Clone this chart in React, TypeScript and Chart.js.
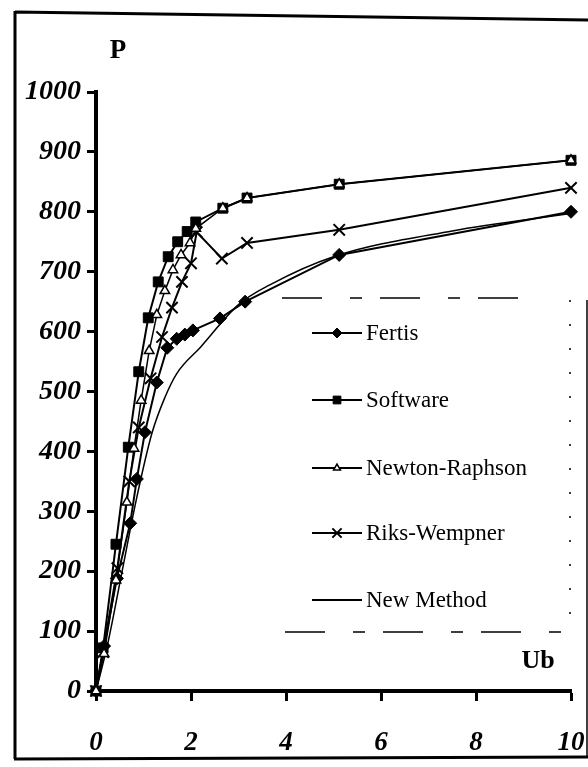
import React, { useEffect, useRef } from 'react';
import { Chart, registerables } from 'chart.js';

Chart.register(...registerables);

// ---- Data ----
const fertisU = [0, 0.17, 0.44, 0.72, 0.86, 1.03, 1.28, 1.5, 1.7, 1.87, 2.04, 2.61, 3.14, 5.12, 10];
const fertisP = [0, 75, 188, 280, 354, 432, 515, 573, 588, 595, 602, 622, 650, 728, 800];

const softwareU = [0, 0.15, 0.42, 0.68, 0.9, 1.1, 1.31, 1.52, 1.72, 1.92, 2.1, 2.67, 3.18, 5.12, 10];
const softwareP = [0, 72, 245, 407, 533, 623, 683, 725, 750, 767, 783, 806, 823, 846, 886];

const newtonU = [0, 0.17, 0.42, 0.65, 0.8, 0.95, 1.12, 1.28, 1.45, 1.62, 1.79, 1.98, 2.1, 2.67, 3.18, 5.12, 10];
const newtonP = [0, 62, 185, 315, 405, 485, 568, 628, 668, 703, 728, 748, 772, 806, 823, 846, 886];

const riksU = [0, 0.15, 0.45, 0.7, 0.9, 1.15, 1.39, 1.6, 1.81, 2.0, 2.12, 2.65, 3.18, 5.12, 10];
const riksP = [0, 65, 205, 350, 440, 522, 591, 640, 683, 714, 766, 722, 748, 770, 840];

const newMethodU = [0, 0.25, 0.55, 0.85, 1.18, 1.45, 1.7, 2.2, 3.0, 3.66, 5.0, 7.5, 10];
const newMethodP = [0, 80, 200, 320, 431, 490, 530, 574, 645, 678, 725, 768, 797];

const xTickValues = [0, 2, 4, 6, 8, 10];
const yTickValues = [0, 100, 200, 300, 400, 500, 600, 700, 800, 900, 1000];

const seriesNames = ['Fertis', 'Software', 'Newton-Raphson', 'Riks-Wempner', 'New Method'];
const yAxisTitle = 'P';
const xAxisTitle = 'Ub';

const SERIF = "'Liberation Serif', 'Times New Roman', serif";

function pts(us: number[], ps: number[]) {
  return us.map((u, i) => ({ x: u, y: ps[i] }));
}

function drawPoint(ctx: CanvasRenderingContext2D, style: string, r: number, x: number, y: number) {
  ctx.beginPath();
  if (style === 'rectRot') {
    ctx.moveTo(x, y - r);
    ctx.lineTo(x + r, y);
    ctx.lineTo(x, y + r);
    ctx.lineTo(x - r, y);
    ctx.closePath();
    ctx.fill();
    ctx.stroke();
  } else if (style === 'rect') {
    const s = r * Math.SQRT1_2;
    ctx.rect(x - s, y - s, 2 * s, 2 * s);
    ctx.fill();
    ctx.stroke();
  } else if (style === 'triangle') {
    ctx.moveTo(x, y - r);
    ctx.lineTo(x + r * 0.866, y + r * 0.5);
    ctx.lineTo(x - r * 0.866, y + r * 0.5);
    ctx.closePath();
    ctx.fill();
    ctx.stroke();
  } else if (style === 'crossRot') {
    const s = r * Math.SQRT1_2;
    ctx.moveTo(x - s, y - s);
    ctx.lineTo(x + s, y + s);
    ctx.moveTo(x + s, y - s);
    ctx.lineTo(x - s, y + s);
    ctx.stroke();
  }
}

const framePlugin = {
  id: 'frameAndTitles',
  beforeDraw(chart: any) {
    const ctx = chart.ctx;
    ctx.save();
    ctx.fillStyle = '#fff';
    ctx.fillRect(0, 0, chart.width, chart.height);
    ctx.strokeStyle = '#000';
    ctx.lineWidth = 3;
    ctx.beginPath();
    ctx.moveTo(15, 12);
    ctx.lineTo(588, 20);
    ctx.moveTo(15, 11);
    ctx.lineTo(15, 759);
    ctx.moveTo(14, 759);
    ctx.lineTo(588, 757);
    ctx.stroke();
    ctx.lineWidth = 1.5;
    ctx.beginPath();
    ctx.moveTo(587, 300);
    ctx.lineTo(587, 757);
    ctx.stroke();
    ctx.restore();
  },
  afterDraw(chart: any) {
    const ctx = chart.ctx;
    ctx.save();
    ctx.fillStyle = '#000';
    ctx.textBaseline = 'middle';
    ctx.textAlign = 'center';
    ctx.font = `bold 27px ${SERIF}`;
    ctx.fillText(yAxisTitle, 118, 51);
    ctx.font = `bold 26px ${SERIF}`;
    ctx.fillText(xAxisTitle, 538, 661);
    ctx.restore();
  },
};

const legendPlugin = {
  id: 'customLegend',
  afterDraw(chart: any) {
    const ctx = chart.ctx;
    ctx.save();
    ctx.strokeStyle = '#000';
    ctx.lineWidth = 1.5;
    ctx.setLineDash([40, 28, 12, 18]);
    ctx.beginPath();
    ctx.moveTo(282, 298);
    ctx.lineTo(540, 298);
    ctx.moveTo(285, 632);
    ctx.lineTo(572, 632);
    ctx.stroke();
    ctx.setLineDash([2, 22]);
    ctx.beginPath();
    ctx.moveTo(570, 300);
    ctx.lineTo(570, 630);
    ctx.stroke();
    ctx.setLineDash([]);

    const ys = [333, 400, 468, 533, 600];
    chart.data.datasets.forEach((ds: any, i: number) => {
      const y = ys[i];
      ctx.strokeStyle = '#000';
      ctx.lineWidth = 2;
      ctx.beginPath();
      ctx.moveTo(312, y);
      ctx.lineTo(362, y);
      ctx.stroke();
      if (ds.pointStyle && ds.pointRadius > 0) {
        ctx.fillStyle = ds.pointBackgroundColor;
        ctx.strokeStyle = '#000';
        ctx.lineWidth = ds.pointBorderWidth;
        drawPoint(ctx, ds.pointStyle, Math.max(4, ds.pointRadius - 1.5), 337, y);
      }
      ctx.fillStyle = '#000';
      ctx.font = `23px ${SERIF}`;
      ctx.textAlign = 'left';
      ctx.textBaseline = 'middle';
      ctx.fillText(ds.label, 366, y + 1);
    });
    ctx.restore();
  },
};

export default function App() {
  const canvasRef = useRef<HTMLCanvasElement | null>(null);

  useEffect(() => {
    if (!canvasRef.current) return;
    const xTickFont = { family: SERIF, size: 27, style: 'italic' as const, weight: 'bold' as const };
    const yTickFont = { family: SERIF, size: 28, style: 'italic' as const, weight: 'bold' as const };
    const chart = new Chart(canvasRef.current, {
      type: 'scatter',
      data: {
        datasets: [
          {
            label: seriesNames[0],
            data: pts(fertisU, fertisP),
            showLine: true,
            clip: false,
            borderColor: '#000',
            borderWidth: 2,
            pointStyle: 'rectRot',
            pointRadius: 6.5,
            pointBackgroundColor: '#000',
            pointBorderColor: '#000',
            pointBorderWidth: 1,
            order: 3,
          },
          {
            label: seriesNames[1],
            data: pts(softwareU, softwareP),
            showLine: true,
            clip: false,
            borderColor: '#000',
            borderWidth: 2,
            pointStyle: 'rect',
            pointRadius: 7,
            pointBackgroundColor: '#000',
            pointBorderColor: '#000',
            pointBorderWidth: 1,
            order: 2,
          },
          {
            label: seriesNames[2],
            data: pts(newtonU, newtonP),
            showLine: true,
            clip: false,
            borderColor: '#000',
            borderWidth: 1.5,
            pointStyle: 'triangle',
            pointRadius: 5.5,
            pointBackgroundColor: '#fff',
            pointBorderColor: '#000',
            pointBorderWidth: 1.5,
            order: 1,
          },
          {
            label: seriesNames[3],
            data: pts(riksU, riksP),
            showLine: true,
            clip: false,
            borderColor: '#000',
            borderWidth: 2,
            pointStyle: 'crossRot',
            pointRadius: 8,
            pointBackgroundColor: '#000',
            pointBorderColor: '#000',
            pointBorderWidth: 2,
            order: 4,
          },
          {
            label: seriesNames[4],
            data: pts(newMethodU, newMethodP),
            showLine: true,
            clip: false,
            borderColor: '#000',
            borderWidth: 1.5,
            pointStyle: false as any,
            pointRadius: 0,
            pointBackgroundColor: '#000',
            pointBorderWidth: 0,
            cubicInterpolationMode: 'monotone',
            order: 5,
          },
        ],
      },
      options: {
        responsive: false,
        animation: false,
        events: [],
        layout: { padding: { top: 92, right: 17, left: 0, bottom: 0 } },
        plugins: {
          legend: { display: false },
          tooltip: { enabled: false },
          title: { display: false },
        },
        scales: {
          x: {
            type: 'linear',
            min: 0,
            max: 10,
            afterBuildTicks: (scale: any) => {
              scale.ticks = xTickValues.map((v) => ({ value: v }));
            },
            afterFit: (scale: any) => {
              scale.height = 76;
              scale.paddingLeft = 0;
              scale.paddingRight = 0;
            },
            ticks: {
              font: xTickFont,
              color: '#000',
              padding: 26,
              maxRotation: 0,
              autoSkip: false,
              callback: (v: any) => String(v),
            },
            grid: {
              display: true,
              drawOnChartArea: false,
              drawTicks: true,
              tickLength: 10,
              tickWidth: 3,
              tickColor: '#000',
            },
            border: { display: true, width: 4, color: '#000' },
          },
          y: {
            type: 'linear',
            min: 0,
            max: 1000,
            afterBuildTicks: (scale: any) => {
              scale.ticks = yTickValues.map((v) => ({ value: v }));
            },
            afterFit: (scale: any) => {
              scale.width = 96;
              scale.paddingTop = 0;
              scale.paddingBottom = 0;
            },
            ticks: {
              font: yTickFont,
              color: '#000',
              padding: 6,
              autoSkip: false,
              callback: (v: any) => String(v),
            },
            grid: {
              display: true,
              drawOnChartArea: false,
              drawTicks: true,
              tickLength: 9,
              tickWidth: 3,
              tickColor: '#000',
            },
            border: { display: true, width: 4, color: '#000' },
          },
        },
      },
      plugins: [framePlugin, legendPlugin],
    } as any);
    return () => chart.destroy();
  }, []);

  return (
    <div style={{ position: 'absolute', left: 0, top: 0, width: 588, height: 767, background: '#fff' }}>
      <canvas ref={canvasRef} width={588} height={767} style={{ display: 'block', width: 588, height: 767 }} />
    </div>
  );
}
